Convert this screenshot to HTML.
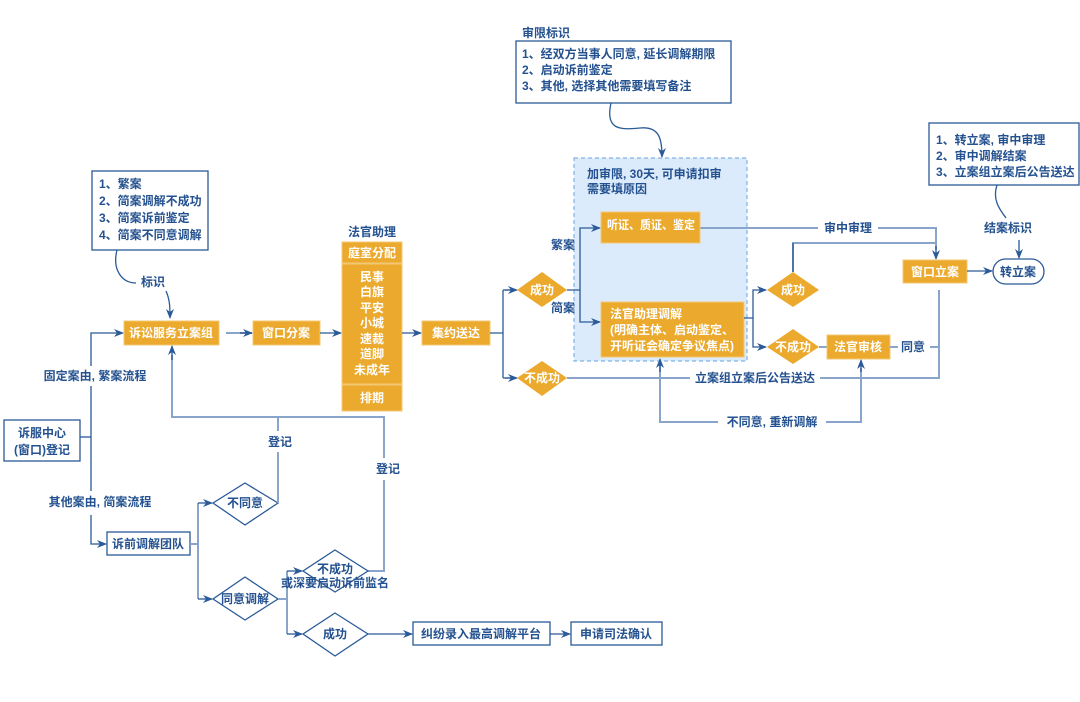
<!DOCTYPE html>
<html><head><meta charset="utf-8">
<style>
html,body{margin:0;padding:0;background:#fff;}
svg{display:block;}
text{font-family:"Liberation Sans","Noto Sans CJK SC",sans-serif;font-weight:bold;font-size:12px;}
.b{fill:#24518f;}
.w{fill:#fff;}
.ob{fill:#ebaa2d;stroke:#f3c874;stroke-width:1;}
.ln{stroke:#2b5a98;stroke-width:1.3;fill:none;}
.lt{stroke:#8aa5cc;stroke-width:2;fill:none;}
.bx{fill:#fff;stroke:#2b5a98;stroke-width:1.3;}
</style></head><body>
<svg width="1080" height="702" viewBox="0 0 1080 702" xmlns="http://www.w3.org/2000/svg">
<defs>
<marker id="a" markerWidth="10" markerHeight="10" refX="9" refY="5" orient="auto" markerUnits="userSpaceOnUse">
<path d="M0,1 L10,5 L0,9 L3,5 z" fill="#2b5a98"/></marker>
</defs>

<rect x="574" y="158" width="173" height="203" fill="#dcebfb" stroke="#7fb2e5" stroke-dasharray="4,3" stroke-width="1.2"/>
<text class="b" x="587" y="178">加审限, 30天, 可申请扣审</text>
<text class="b" x="587" y="193">需要填原因</text>

<rect class="bx" x="92" y="171" width="116" height="79"/>
<text class="b" x="99" y="188">1、繁案</text>
<text class="b" x="99" y="205">2、简案调解不成功</text>
<text class="b" x="99" y="222">3、简案诉前鉴定</text>
<text class="b" x="99" y="239">4、简案不同意调解</text>
<path class="ln" d="M117,250 C112,270 122,283 136,283"/>
<text class="b" x="141" y="286">标识</text>
<path class="ln" d="M166,291 C170,300 170,308 170,318" marker-end="url(#a)"/>

<text class="b" x="522" y="37">审限标识</text>
<rect class="bx" x="516" y="41" width="215" height="62"/>
<text class="b" x="522" y="58">1、经双方当事人同意, 延长调解期限</text>
<text class="b" x="522" y="74">2、启动诉前鉴定</text>
<text class="b" x="522" y="90">3、其他, 选择其他需要填写备注</text>
<path class="ln" d="M611,103 C605,130 620,130 640,128 C660,126 662,140 662,157" marker-end="url(#a)"/>

<rect class="bx" x="929" y="123" width="150" height="62"/>
<text class="b" x="936" y="144">1、转立案, 审中审理</text>
<text class="b" x="936" y="160">2、审中调解结案</text>
<text class="b" x="936" y="176">3、立案组立案后公告送达</text>
<path class="ln" d="M997,185 C992,200 1000,210 1006,218"/>
<text class="b" x="984" y="232">结案标识</text>
<path class="ln" d="M1019,240 L1019,258" marker-end="url(#a)"/>

<rect class="bx" x="4" y="420" width="76" height="41"/>
<text class="b" x="42" y="437" text-anchor="middle">诉服中心</text>
<text class="b" x="42" y="454" text-anchor="middle">(窗口)登记</text>
<path class="ln" d="M80,437 L91,437"/>
<path class="ln" d="M91,366 L91,333 L123,333" marker-end="url(#a)"/>
<path class="ln" d="M91,386 L91,491"/>
<path class="ln" d="M91,515 L91,544 L106,544" marker-end="url(#a)"/>
<text class="b" x="95" y="380" text-anchor="middle">固定案由, 繁案流程</text>
<text class="b" x="100" y="506" text-anchor="middle">其他案由, 简案流程</text>

<rect class="ob" x="124" y="321" width="95" height="24"/>
<text class="w" x="171" y="337" text-anchor="middle">诉讼服务立案组</text>
<path class="lt" d="M226,333 L252,333" stroke="#2b5a98"/>
<path class="ln" d="M240,333 L252,333" marker-end="url(#a)"/>
<rect class="ob" x="253" y="321" width="67" height="24"/>
<text class="w" x="286" y="337" text-anchor="middle">窗口分案</text>
<path class="ln" d="M320,333 L341,333" marker-end="url(#a)"/>

<text class="b" x="372" y="236" text-anchor="middle">法官助理</text>
<rect class="ob" x="342" y="242" width="60" height="21"/>
<text class="w" x="372" y="257" text-anchor="middle">庭室分配</text>
<rect class="ob" x="342" y="264" width="60" height="120"/>
<text class="w" x="372" y="281" text-anchor="middle">民事</text>
<text class="w" x="372" y="296" text-anchor="middle">白旗</text>
<text class="w" x="372" y="312" text-anchor="middle">平安</text>
<text class="w" x="372" y="327" text-anchor="middle">小城</text>
<text class="w" x="372" y="343" text-anchor="middle">速裁</text>
<text class="w" x="372" y="358" text-anchor="middle">道脚</text>
<text class="w" x="372" y="374" text-anchor="middle">未成年</text>
<rect class="ob" x="342" y="385" width="60" height="26"/>
<text class="w" x="372" y="402" text-anchor="middle">排期</text>
<path class="ln" d="M402,333 L421,333" marker-end="url(#a)"/>
<rect class="ob" x="422" y="321" width="68" height="24"/>
<text class="w" x="456" y="337" text-anchor="middle">集约送达</text>
<path class="ln" d="M490,333 L503,333 M503,290 L503,378 M503,290 L516,290 M503,378 L516,378"/>
<path class="ln" d="M505,290 L517,290" marker-end="url(#a)"/>
<path class="ln" d="M505,378 L517,378" marker-end="url(#a)"/>

<polygon points="542,272 567,290 542,307 517,290" fill="#ebaa2d"/>
<text class="w" x="542" y="294" text-anchor="middle">成功</text>
<polygon points="542,361 567,378 542,396 517,378" fill="#ebaa2d"/>
<text class="w" x="542" y="382" text-anchor="middle">不成功</text>

<path class="ln" d="M567,290 L580,290 L580,228 L600,228" marker-end="url(#a)"/>
<path class="ln" d="M580,290 L580,322 L600,322" marker-end="url(#a)"/>
<text class="b" x="563" y="249" text-anchor="middle">繁案</text>
<text class="b" x="563" y="312" text-anchor="middle">简案</text>

<path class="lt" d="M700,228 L818,228 M878,228 L936,228 L936,250"/>
<rect class="ob" x="601" y="212" width="99" height="31"/>
<text class="w" x="607" y="229" textLength="88" lengthAdjust="spacingAndGlyphs">听证、质证、鉴定</text>
<rect class="ob" x="601" y="302" width="143" height="55"/>
<text class="w" x="610" y="318">法官助理调解</text>
<text class="w" x="610" y="334">(明确主体、启动鉴定、</text>
<text class="w" x="610" y="350">开听证会确定争议焦点)</text>

<text class="b" x="848" y="232" text-anchor="middle">审中审理</text>
<path class="ln" d="M936,246 L936,259" marker-end="url(#a)"/>
<path class="lt" d="M793,272 L793,243 L936,243"/>
<path class="ln" d="M793,272 L793,243"/>

<rect class="ob" x="903" y="260" width="64" height="23"/>
<text class="w" x="935" y="276" text-anchor="middle">窗口立案</text>
<path class="ln" d="M967,271 L992,271" marker-end="url(#a)"/>
<rect x="993" y="259" width="51" height="25" rx="12.5" fill="#fff" stroke="#2b5a98" stroke-width="1.3"/>
<text class="b" x="1018" y="276" text-anchor="middle">转立案</text>

<path class="ln" d="M744,318 L753,318 L753,290 L766,290" marker-end="url(#a)"/>
<path class="ln" d="M753,318 L753,347 L766,347" marker-end="url(#a)"/>
<polygon points="793,272 819,290 793,307 767,290" fill="#ebaa2d"/>
<text class="w" x="793" y="294" text-anchor="middle">成功</text>
<polygon points="793,329 819,347 793,364 767,347" fill="#ebaa2d"/>
<text class="w" x="793" y="351" text-anchor="middle">不成功</text>
<path class="lt" d="M819,347 L827,347"/>
<rect class="ob" x="827" y="335" width="63" height="24"/>
<text class="w" x="858" y="351" text-anchor="middle">法官审核</text>
<path class="lt" d="M890,347 L898,347 M930,347 L939,347 M939,290 L939,378 L820,378 M690,378 L567,378"/>
<text class="b" x="913" y="351" text-anchor="middle">同意</text>
<text class="b" x="755" y="382" text-anchor="middle">立案组立案后公告送达</text>

<path class="lt" d="M660,365 L660,422 L718,422 M826,422 L861,422 L861,368"/>
<path class="ln" d="M660,372 L660,359" marker-end="url(#a)"/>
<path class="ln" d="M861,372 L861,360" marker-end="url(#a)"/>
<text class="b" x="772" y="426" text-anchor="middle">不同意, 重新调解</text>

<rect class="bx" x="107" y="532" width="83" height="23"/>
<text class="b" x="148" y="548" text-anchor="middle">诉前调解团队</text>
<path class="lt" d="M190,544 L198,544 M198,503 L198,599"/>
<path class="ln" d="M198,503 L212,503" marker-end="url(#a)"/>
<path class="ln" d="M198,599 L212,599" marker-end="url(#a)"/>
<polygon points="245,483 278,503 245,525 213,503" fill="#fff" stroke="#2b5a98" stroke-width="1.3"/>
<text class="b" x="245" y="507" text-anchor="middle">不同意</text>
<polygon points="245,577 278,599 245,620 213,599" fill="#fff" stroke="#2b5a98" stroke-width="1.3"/>
<text class="b" x="245" y="603" text-anchor="middle">同意调解</text>

<path class="lt" d="M278,503 L278,452 M278,431 L278,417 L384,417 L384,458 M384,480 L384,571 L368,571 M278,417 L172,417 L172,355"/>
<path class="ln" d="M172,360 L172,346" marker-end="url(#a)"/>
<text class="b" x="280" y="446" text-anchor="middle">登记</text>
<text class="b" x="388" y="473" text-anchor="middle">登记</text>

<path class="lt" d="M278,599 L287,599 L287,571 M287,599 L287,634"/>
<path class="ln" d="M287,571 L302,571" marker-end="url(#a)"/>
<path class="ln" d="M287,634 L302,634" marker-end="url(#a)"/>
<polygon points="335,550 368,571 335,592 303,571" fill="#fff" stroke="#2b5a98" stroke-width="1.3"/>
<text class="b" x="335" y="573" text-anchor="middle">不成功</text>
<text class="b" x="335" y="587" text-anchor="middle">或深要启动诉前监名</text>
<polygon points="335,613 368,634 335,656 303,634" fill="#fff" stroke="#2b5a98" stroke-width="1.3"/>
<text class="b" x="335" y="638" text-anchor="middle">成功</text>
<path class="ln" d="M368,634 L412,634" marker-end="url(#a)"/>
<rect class="bx" x="413" y="622" width="137" height="23"/>
<text class="b" x="481" y="638" text-anchor="middle">纠纷录入最高调解平台</text>
<path class="ln" d="M550,634 L570,634" marker-end="url(#a)"/>
<rect class="bx" x="571" y="622" width="91" height="23"/>
<text class="b" x="616" y="638" text-anchor="middle">申请司法确认</text>
</svg>
</body></html>
